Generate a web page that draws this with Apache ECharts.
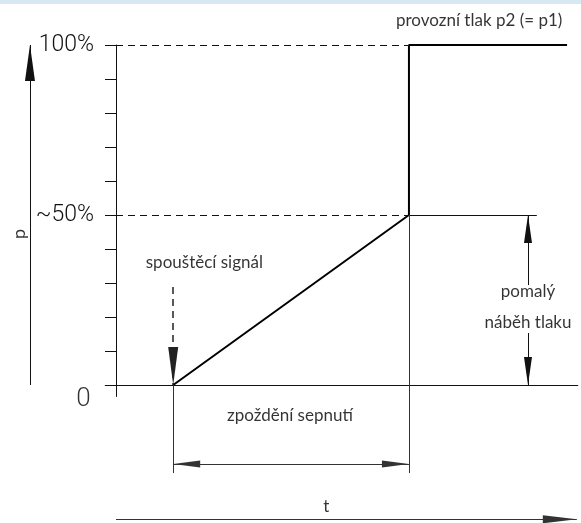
<!DOCTYPE html>
<html>
<head>
<meta charset="utf-8">
<script src="https://cdn.jsdelivr.net/npm/echarts@6/dist/echarts.min.js"></script>
<style>
html, body { margin: 0; padding: 0; background: #fff; }
#chart { width: 581px; height: 523px; }
</style>
</head>
<body>
<div id="chart"></div>
<script>
// time runs 0..100 across the plot area, pressure is in %
const tTrigger = 12.3;
const tSwitch = 63;

// pressure profile: slow rise to ~50 %, then jump to full pressure
const profileT = [tTrigger, tSwitch, tSwitch, 97];
const profileP = [0, 50, 100, 100];

const tickLabels = { 100: '100%', 50: '~50%' };

// guide lines [t1, p1, t2, p2]
const dashedGuides = [
  [0, 100, tSwitch, 100],
  [0, 50, tSwitch, 50]
];
const thinLines = [
  [-2.4, 0, 99.4, 0],
  [0, -3.5, 0, 100],
  [tSwitch, 50, 90.5, 50],
  [tTrigger, 0, tTrigger, -25.9],
  [tSwitch, 50, tSwitch, -25.9]
];
// arrows pointing to the second point
const arrows = [
  [-18.5, 0, -18.5, 100],
  [88.6, 29.4, 88.6, 50],
  [88.6, 15.3, 88.6, 0],
  [0, -39.5, 99.1, -39.5]
];
const triggerArrow = [tTrigger, 28.8, tTrigger, 0];
const delayArrow = [tTrigger, -23.2, tSwitch, -23.2];

// annotations
const noteText = ['provozní tlak p2 (= p1)', 'spouštěcí signál', 'zpoždění sepnutí', 'pomalý', 'náběh tlaku', 't', 'p', '0'];
const noteT = [78.1, 19.0, 37.4, 88.6, 88.6, 45.2, -20.9, -7.0];
const noteP = [107.1, 35.9, -9, 27.6, 18.5, -35.6, 44.4, -4.4];

// plot box in pixels; the outer grid spans the whole picture with the same scale
const W = 581, H = 523;
const plotLeft = 116, plotTop = 45, plotBottom = 138;
const pxT = (W - plotLeft) / 100;
const pxP = (H - plotTop - plotBottom) / 100;

function seg(s, style, endA, endB) {
  return [
    Object.assign({ coord: [s[0], s[1]], lineStyle: style }, endA || { symbol: 'none' }),
    Object.assign({ coord: [s[2], s[3]] }, endB || { symbol: 'none' })
  ];
}
function head(w, h) {
  return { symbol: 'triangle', symbolSize: [w, h], symbolOffset: [0, h / 2] };
}

const thin = { color: '#333', width: 1, type: 'solid' };
const dark = { color: '#111', width: 1, type: 'solid' };
const dash = { color: '#111', width: 1, type: [7, 5] };

const lineMarks = []
  .concat(dashedGuides.map(s => seg(s, dash)))
  .concat(thinLines.map((s, i) => seg(s, i < 3 ? dark : thin)))
  .concat([
    seg(arrows[0], dark, null, head(10, 36)),
    seg(arrows[1], dark, null, head(8, 28)),
    seg(arrows[2], dark, null, head(8, 28)),
    seg(arrows[3], thin, null, head(8, 34)),
    seg(triggerArrow, { color: '#222', width: 1.5, type: [7, 5] }, null, head(10, 38)),
    seg(delayArrow, thin, head(7, 27), head(7, 27))
  ]);

const chart = echarts.init(document.getElementById('chart'));
chart.setOption({
  animation: false,
  backgroundColor: '#fff',
  graphic: [{
    type: 'rect',
    shape: { x: 0, y: 0, width: W, height: 4 },
    style: { fill: '#d7e9f3' }
  }],
  grid: [
    { left: 0, right: 0, top: 0, bottom: 0 },
    { left: plotLeft, right: 0, top: plotTop, bottom: plotBottom }
  ],
  xAxis: [
    { gridIndex: 0, type: 'value', min: -plotLeft / pxT, max: 100, show: false },
    { gridIndex: 1, type: 'value', min: 0, max: 100, show: false }
  ],
  yAxis: [
    { gridIndex: 0, type: 'value', min: -plotBottom / pxP, max: 100 + plotTop / pxP, show: false },
    {
      gridIndex: 1,
      type: 'value',
      min: 0,
      max: 100,
      interval: 10,
      splitLine: { show: false },
      axisLine: { show: true, lineStyle: { color: '#111', width: 1 } },
      axisTick: { show: true, length: 11, lineStyle: { color: '#111' } },
      axisLabel: {
        margin: 22,
        color: '#111',
        fontFamily: 'Roboto',
        fontWeight: 300,
        fontSize: 23,
        formatter: v => tickLabels[v] || ''
      }
    }
  ],
  series: [
    {
      type: 'line',
      xAxisIndex: 0,
      yAxisIndex: 0,
      clip: false,
      silent: true,
      symbol: 'none',
      data: profileT.map((t, i) => [t, profileP[i]]),
      lineStyle: { color: '#000', width: 2 },
      markLine: {
        silent: true,
        label: { show: false },
        emphasis: { disabled: true },
        data: lineMarks
      },
      z: 3
    },
    {
      type: 'scatter',
      xAxisIndex: 0,
      yAxisIndex: 0,
      clip: false,
      silent: true,
      symbolSize: 1,
      itemStyle: { color: 'transparent' },
      label: {
        show: true,
        position: 'inside',
        formatter: '{b}',
        color: '#000',
        fontFamily: 'Lato',
        fontSize: 17
      },
      data: noteText.map((s, i) => {
        const item = { name: s, value: [noteT[i], noteP[i]] };
        if (s === 'p') item.label = { rotate: 90, fontSize: 18 };
        if (s === '0') item.label = { fontFamily: 'Roboto', fontWeight: 300, fontSize: 26 };
        return item;
      })
    }
  ]
});
</script>
</body>
</html>
